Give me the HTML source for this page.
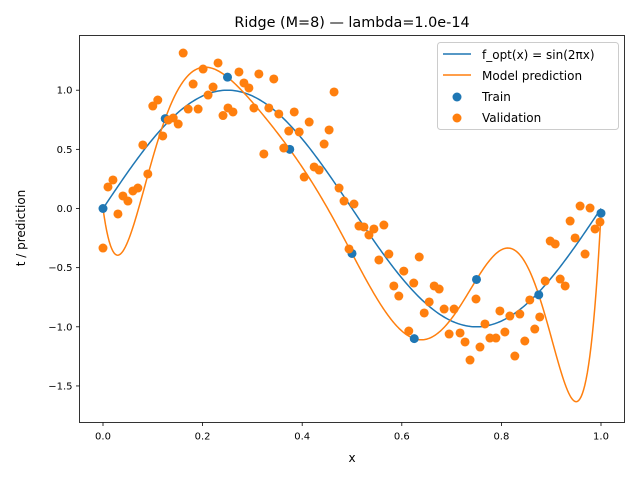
<!DOCTYPE html>
<html><head><meta charset="utf-8"><style>
body{margin:0;background:#fff;}
svg{display:block;font-family:"DejaVu Sans","Liberation Sans",sans-serif;}
</style></head><body>
<svg id="chart" width="640" height="480" viewBox="0 0 640 480" xmlns="http://www.w3.org/2000/svg">
<text x="352" y="27" font-size="14.4" text-anchor="middle" fill="#000">Ridge (M=8) — lambda=1.0e-14</text>
<g id="plot"></g>
<text x="352" y="462" font-size="12" text-anchor="middle">x</text>
<text transform="translate(25,228) rotate(-90)" font-size="12" text-anchor="middle">t / prediction</text>
<g>
<rect x="437.5" y="42.5" width="181" height="87" rx="3" fill="#fff" fill-opacity="0.8" stroke="#ccc"/>
<line x1="443" y1="54" x2="471" y2="54" stroke="#1f77b4" stroke-width="1.5"/>
<text x="482" y="59" font-size="12">f_opt(x) = sin(2πx)</text>
<line x1="443" y1="75" x2="471" y2="75" stroke="#ff7f0e" stroke-width="1.5"/>
<text x="482" y="80" font-size="12">Model prediction</text>
<circle cx="457" cy="97" r="4.5" fill="#1f77b4"/>
<text x="482" y="101" font-size="12">Train</text>
<circle cx="457" cy="118" r="4.5" fill="#ff7f0e"/>
<text x="482" y="122" font-size="12">Validation</text>
</g>
</svg>
<script>
const trainX=[0,0.125,0.25,0.375,0.5,0.625,0.75,0.875,1.0];
const trainY=[0,0.76,1.11,0.50,-0.38,-1.10,-0.60,-0.73,-0.04];
const valX=[0,.010,.020,.030,.040,.050,.060,.070,.080,.090,.100,.110,.120,.131,.141,.151,.161,.171,.181,.191,.201,.211,.221,.231,.241,.251,.261,.273,.283,.293,.303,.313,.323,.333,.343,.353,.363,.373,.384,.394,.404,.414,.424,.434,.444,.454,.464,.474,.484,.494,.504,.514,.524,.534,.544,.554,.564,.574,.584,.594,.604,.614,.624,.635,.645,.655,.665,.675,.685,.695,.705,.717,.727,.737,.749,.757,.767,.777,.789,.797,.807,.817,.827,.837,.847,.857,.867,.877,.888,.898,.908,.918,.928,.938,.948,.958,.968,.978,.988,.998];
const valY=[-0.334,0.182,0.241,-0.046,0.106,0.063,0.148,0.173,0.537,0.292,0.866,0.917,0.613,0.748,0.765,0.714,1.314,0.841,1.052,0.841,1.179,0.959,1.027,1.230,0.786,0.850,0.816,1.154,1.061,1.019,0.850,1.137,0.461,0.850,1.095,0.799,0.511,0.655,0.816,0.647,0.266,0.731,0.351,0.325,0.545,0.664,0.985,0.173,0.063,-0.342,0.038,-0.148,-0.156,-0.224,-0.173,-0.435,-0.140,-0.385,-0.655,-0.740,-0.529,-1.036,-0.630,-0.410,-0.883,-0.790,-0.655,-0.681,-0.850,-1.061,-0.850,-1.052,-1.128,-1.281,-0.765,-1.171,-0.976,-1.095,-1.095,-0.866,-1.044,-0.909,-1.247,-0.892,-1.120,-0.773,-1.019,-0.917,-0.613,-0.275,-0.300,-0.596,-0.655,-0.106,-0.249,0.021,-0.385,0.004,-0.173,-0.114];
const xTicks=[0,0.2,0.4,0.6,0.8,1.0];
const xTickLabels=["0.0","0.2","0.4","0.6","0.8","1.0"];
const yTicks=[-1.5,-1.0,-0.5,0.0,0.5,1.0];
const yTickLabels=["−1.5","−1.0","−0.5","0.0","0.5","1.0"];

const L=79.5,R=624.5,T=35.5,B=422.5;
const sx=v=>103+v*498;
const sy=v=>208.5-v*118.3;
const NS="http://www.w3.org/2000/svg";
const g=document.getElementById('plot');
function mk(tag,attrs){const e=document.createElementNS(NS,tag);for(const k in attrs)e.setAttribute(k,attrs[k]);return e;}
const defs=mk('defs',{});const cp=mk('clipPath',{id:'clip'});cp.appendChild(mk('rect',{x:L,y:T,width:R-L,height:B-T}));defs.appendChild(cp);g.appendChild(defs);

// ticks
xTicks.forEach((v,i)=>{
  const t=mk('line',{x1:sx(v),x2:sx(v),y1:B,y2:B+3.5,stroke:'#000','stroke-width':0.8});
  
  
  g.appendChild(t);
  const tx=mk('text',{x:sx(v),y:B+17,'font-size':10,'text-anchor':'middle'});tx.textContent=xTickLabels[i];
  
  
  g.appendChild(tx);
});
yTicks.forEach((v,i)=>{
  const t=mk('line',{x1:L-3.5,x2:L,y1:sy(v),y2:sy(v),stroke:'#000','stroke-width':0.8});
  
  
  g.appendChild(t);
  const tx=mk('text',{x:L-7,y:sy(v)+3.5,'font-size':10,'text-anchor':'end'});tx.textContent=yTickLabels[i];
  
  
  g.appendChild(tx);
});

const plotG=mk('g',{'clip-path':'url(#clip)'});g.appendChild(plotG);
// true function
let d='';for(let i=0;i<=300;i++){const x=i/300;d+=(i?'L':'M')+sx(x).toFixed(2)+','+sy(Math.sin(2*Math.PI*x)).toFixed(2);}
const f=mk('path',{d:d,fill:'none',stroke:'#1f77b4','stroke-width':1.5});


plotG.appendChild(f);
// model: degree-8 polynomial through training points
function lag(x){let s=0;for(let i=0;i<trainX.length;i++){let p=trainY[i];for(let j=0;j<trainX.length;j++)if(j!==i)p*=(x-trainX[j])/(trainX[i]-trainX[j]);s+=p;}return s;}
d='';for(let i=0;i<=400;i++){const x=i/400;d+=(i?'L':'M')+sx(x).toFixed(2)+','+sy(lag(x)).toFixed(2);}
const m=mk('path',{d:d,fill:'none',stroke:'#ff7f0e','stroke-width':1.5});


plotG.appendChild(m);
trainX.forEach((x,i)=>{
  const c=mk('circle',{cx:sx(x),cy:sy(trainY[i]),r:4.5,fill:'#1f77b4'});
  
  
  g.appendChild(c);
});
valX.forEach((x,i)=>{
  const c=mk('circle',{cx:sx(x),cy:sy(valY[i]),r:4.5,fill:'#ff7f0e'});
  
  
  g.appendChild(c);
});
const fr=mk('rect',{x:L,y:T,width:R-L,height:B-T,fill:'none',stroke:'#000','stroke-width':0.8});


g.appendChild(fr);
</script>
</body></html>
